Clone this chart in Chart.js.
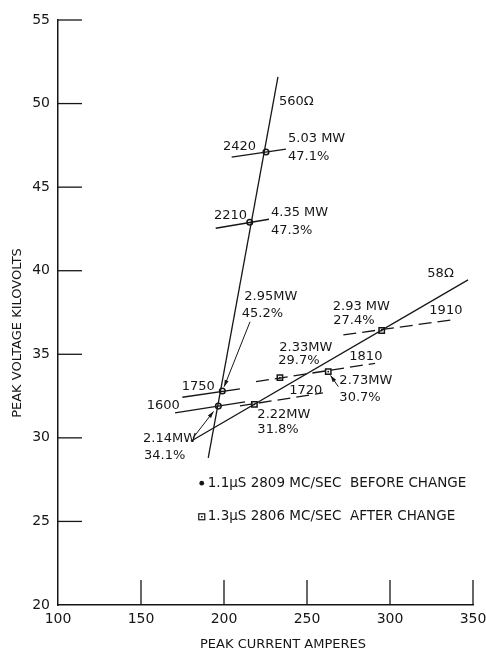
<!DOCTYPE html>
<html>
<head>
<meta charset="utf-8">
<script src="https://cdn.jsdelivr.net/npm/chart.js@4/dist/chart.umd.min.js"></script>
<style>
  html, body { margin: 0; padding: 0; background: #fff; }
  canvas { display: block; }
</style>
</head>
<body>
<canvas id="chart" width="486" height="653"></canvas>
<script>
// axis ticks
const xTicks = [100, 150, 200, 250, 300, 350];
const yTicks = [20, 25, 30, 35, 40, 45, 50, 55];

// load lines (current A, voltage kV)
const line560I = [190.5, 232.5];
const line560V = [28.8, 51.6];
const line58I = [180, 347];
const line58V = [29.8, 39.45];

// 1.1 us, 2809 Mc/sec, before change (circles)
const beforeI = [196.6, 199, 215.5, 225.3];
const beforeV = [31.9, 32.8, 42.9, 47.1];
// 1.3 us, 2806 Mc/sec, after change (squares)
const afterI = [218.3, 233.7, 262.8, 295];
const afterV = [32.0, 33.6, 33.96, 36.42];

// constant field lines, solid (before) and dashed (after)
const fieldSolid = ['1600', '1750', '2210', '2420'];
const fieldSolidI = [[170.5, 212.7], [174.9, 209.6], [195, 227.1], [204.6, 237.3]];
const fieldSolidV = [[31.49, 32.15], [32.43, 32.93], [42.54, 43.08], [46.79, 47.27]];
const fieldDashed = ['1720', '1810', '1910'];
const fieldDashedI = [[209.6, 259.6], [219.3, 291], [271.9, 337.2]];
const fieldDashedV = [[31.91, 32.69], [33.36, 34.46], [36.16, 37.06]];

// text notes: text, current, voltage (left edge, middle)
const notes = [
  ['560\u03A9', 233.1, 50.11],
  ['2420', 199.4, 47.4], ['5.03 MW', 238.6, 47.88], ['47.1%', 238.6, 46.81],
  ['2210', 194, 43.27], ['4.35 MW', 228.3, 43.47], ['47.3%', 228.3, 42.4],
  ['2.95MW', 212.2, 38.45], ['45.2%', 210.7, 37.45],
  ['2.93 MW', 265.5, 37.85], ['27.4%', 265.8, 37.01],
  ['58\u03A9', 322.5, 39.8], ['1910', 323.7, 37.61],
  ['2.33MW', 233.3, 35.42], ['29.7%', 232.7, 34.62], ['1810', 275.5, 34.86],
  ['2.73MW', 269.5, 33.42], ['30.7%', 269.5, 32.42],
  ['1720', 239.3, 32.82], ['1750', 174.5, 33.06], ['1600', 153.4, 31.91],
  ['2.22MW', 220.1, 31.37], ['31.8%', 220.1, 30.47],
  ['2.14MW', 151.2, 29.97], ['34.1%', 151.8, 28.91]
];
// arrows: tail I, tail V, tip I, tip V
const arrows = [
  [215.7, 36.95, 200.1, 33.06],
  [268.9, 33.06, 264.2, 33.73],
  [181.3, 29.99, 193.7, 31.58]
];

const legendRows = [
  { text: '1.1\u03BCS 2809 MC/SEC  BEFORE CHANGE', I: 186.6, V: 27.29, square: false },
  { text: '1.3\u03BCS 2806 MC/SEC  AFTER CHANGE', I: 186.6, V: 25.28, square: true }
];

const INK = '#161616';
const FONT = '"DejaVu Sans", sans-serif';

function pts(xs, ys){ return xs.map((x, i) => ({ x: x, y: ys[i] })); }

const datasets = [];
fieldSolid.forEach((name, i) => {
  datasets.push({ label: name, data: pts(fieldSolidI[i], fieldSolidV[i]), showLine: true,
    borderColor: INK, borderWidth: 1.3, pointRadius: 0 });
});
fieldDashed.forEach((name, i) => {
  datasets.push({ label: name, data: pts(fieldDashedI[i], fieldDashedV[i]), showLine: true,
    borderColor: INK, borderWidth: 1.3, borderDash: [13, 6], pointRadius: 0 });
});
datasets.push({ label: '560', data: pts(line560I, line560V), showLine: true, borderColor: INK, borderWidth: 1.3, pointRadius: 0 });
datasets.push({ label: '58', data: pts(line58I, line58V), showLine: true, borderColor: INK, borderWidth: 1.3, pointRadius: 0 });
datasets.push({ label: 'before', data: pts(beforeI, beforeV), showLine: false, pointStyle: 'circle',
  pointRadius: 2.8, pointBackgroundColor: '#fff', pointBorderColor: INK, pointBorderWidth: 1.5 });
datasets.push({ label: 'after', data: pts(afterI, afterV), showLine: false, pointStyle: 'rect',
  pointRadius: 3.8, pointBackgroundColor: '#fff', pointBorderColor: INK, pointBorderWidth: 1.5 });

const extras = {
  id: 'extras',
  afterDraw(chart){
    const ctx = chart.ctx, xs = chart.scales.x, ys = chart.scales.y, a = chart.chartArea;
    ctx.save();
    ctx.strokeStyle = INK; ctx.fillStyle = INK; ctx.lineWidth = 1.3;

    // inward tick marks
    xTicks.forEach(v => {
      if(v === xs.min) return;
      const px = xs.getPixelForValue(v);
      ctx.beginPath(); ctx.moveTo(px, a.bottom); ctx.lineTo(px, a.bottom - 25); ctx.stroke();
    });
    yTicks.forEach(v => {
      if(v === ys.min) return;
      const py = ys.getPixelForValue(v);
      ctx.beginPath(); ctx.moveTo(a.left, py); ctx.lineTo(a.left + 24, py); ctx.stroke();
    });

    // small dot inside each square marker
    afterI.forEach((v, i) => {
      ctx.fillRect(xs.getPixelForValue(v) - 0.8, ys.getPixelForValue(afterV[i]) - 0.8, 1.6, 1.6);
    });

    // notes
    ctx.font = '13px ' + FONT;
    ctx.textAlign = 'left'; ctx.textBaseline = 'middle';
    notes.forEach(n => ctx.fillText(n[0], xs.getPixelForValue(n[1]), ys.getPixelForValue(n[2])));

    // arrows
    ctx.lineWidth = 1;
    arrows.forEach(r => {
      const x0 = xs.getPixelForValue(r[0]), y0 = ys.getPixelForValue(r[1]);
      const x1 = xs.getPixelForValue(r[2]), y1 = ys.getPixelForValue(r[3]);
      const ang = Math.atan2(y1 - y0, x1 - x0);
      ctx.beginPath(); ctx.moveTo(x0, y0); ctx.lineTo(x1, y1); ctx.stroke();
      ctx.beginPath();
      ctx.moveTo(x1, y1);
      ctx.lineTo(x1 - 7 * Math.cos(ang - 0.3), y1 - 7 * Math.sin(ang - 0.3));
      ctx.lineTo(x1 - 7 * Math.cos(ang + 0.3), y1 - 7 * Math.sin(ang + 0.3));
      ctx.closePath(); ctx.fill();
    });

    // legend
    ctx.font = '13.5px ' + FONT;
    legendRows.forEach(r => {
      const px = xs.getPixelForValue(r.I), py = ys.getPixelForValue(r.V);
      if(r.square){
        ctx.lineWidth = 1.2;
        ctx.strokeRect(px - 3, py - 3, 6, 6);
        ctx.fillRect(px - 0.8, py - 0.8, 1.6, 1.6);
      } else {
        ctx.beginPath(); ctx.arc(px, py, 2.4, 0, Math.PI * 2); ctx.fill();
      }
      ctx.fillText(r.text, px + 6, py);
    });

    // axis titles
    ctx.font = '13px ' + FONT;
    ctx.textAlign = 'center';
    ctx.fillText('PEAK CURRENT AMPERES', 283, 645);
    ctx.translate(18, 333);
    ctx.rotate(-Math.PI / 2);
    ctx.fillText('PEAK VOLTAGE KILOVOLTS', 0, 0);
    ctx.restore();
  }
};

new Chart(document.getElementById('chart'), {
  type: 'scatter',
  data: { datasets: datasets },
  options: {
    responsive: false,
    animation: false,
    layout: { padding: { top: 20, right: 13, left: 0, bottom: 0 } },
    plugins: { legend: { display: false }, tooltip: { enabled: false } },
    scales: {
      x: {
        type: 'linear', min: 100, max: 350,
        afterBuildTicks: s => { s.ticks = xTicks.map(v => ({ value: v })); },
        ticks: { color: INK, font: { family: FONT, size: 14 }, padding: 6 },
        grid: { drawOnChartArea: false, drawTicks: false },
        border: { color: INK, width: 1.5 },
        afterFit: s => { s.height = 48; s.paddingLeft = 0; s.paddingRight = 0; }
      },
      y: {
        type: 'linear', min: 20, max: 55,
        afterBuildTicks: s => { s.ticks = yTicks.map(v => ({ value: v })); },
        ticks: { color: INK, font: { family: FONT, size: 14 }, padding: 8 },
        grid: { drawOnChartArea: false, drawTicks: false },
        border: { color: INK, width: 1.5 },
        afterFit: s => { s.width = 58; s.paddingTop = 0; s.paddingBottom = 0; }
      }
    }
  },
  plugins: [extras]
});
</script>
</body>
</html>
